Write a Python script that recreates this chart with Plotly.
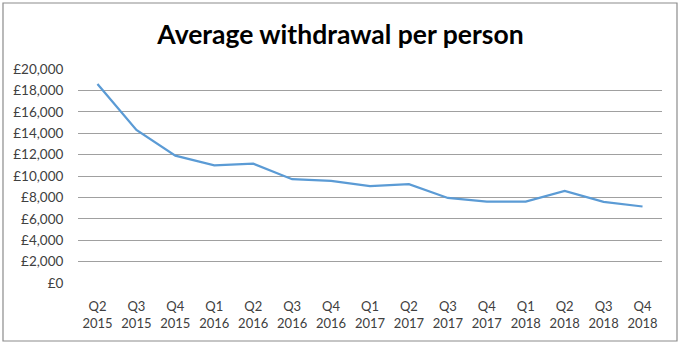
import plotly.graph_objects as go

quarters = ["Q2", "Q3", "Q4", "Q1", "Q2", "Q3", "Q4", "Q1", "Q2", "Q3", "Q4", "Q1", "Q2", "Q3", "Q4"]
years = ["2015", "2015", "2015", "2016", "2016", "2016", "2016", "2017", "2017", "2017", "2017", "2018", "2018", "2018", "2018"]
values = [18600, 14300, 11900, 11000, 11150, 9700, 9550, 9050, 9230, 7950, 7600, 7600, 8600, 7580, 7150]
y_ticks = list(range(0, 20001, 2000))
y_tick_labels = ["£0" if v == 0 else "£{:,}".format(v) for v in y_ticks]

categories = [f"{q}<br>{y}" for q, y in zip(quarters, years)]
xpos = list(range(len(categories)))

W, H = 681, 345
L, R, T, B = 78, 19, 69, 62
pw, ph = W - L - R, H - T - B

fig = go.Figure()
fig.add_trace(go.Scatter(
    x=xpos, y=values, mode="lines",
    line=dict(color="#5B9BD5", width=2.25),
    hoverinfo="skip", showlegend=False,
))

def px_to_paper_x(px):
    return (px - L) / pw

def px_to_paper_y(py):
    return (H - B - py) / ph

fig.update_layout(
    width=W, height=H,
    margin=dict(l=L, r=R, t=T, b=B),
    paper_bgcolor="white", plot_bgcolor="white",
    font=dict(family="Lato, Open Sans, sans-serif", color="#404040", size=12),
    title=dict(
        text="<b>Average withdrawal per person</b>",
        x=0.5, xanchor="center", xref="container",
        y=1 - 35 / H, yanchor="middle",
        font=dict(family="Lato, Open Sans, sans-serif", size=26.5, color="#000000"),
    ),
    xaxis=dict(
        range=[-0.5, len(categories) - 0.5],
        tickmode="array", tickvals=xpos, ticktext=categories,
        showgrid=False, zeroline=False,
        showline=False,
        ticks="outside", ticklen=11, tickcolor="rgba(0,0,0,0)",
        tickfont=dict(size=13, color="#404040"),
        fixedrange=True,
    ),
    yaxis=dict(
        range=[0, 20000],
        tickmode="array", tickvals=y_ticks, ticktext=y_tick_labels,
        showgrid=True, gridcolor="#A0A0A0", gridwidth=1.2,
        zeroline=False, showline=False,
        ticks="outside", ticklen=11, tickcolor="rgba(0,0,0,0)",
        tickfont=dict(size=13.5, color="#404040"),
        fixedrange=True,
    ),
    shapes=[
        dict(type="rect", xref="paper", yref="paper",
             x0=px_to_paper_x(3), x1=px_to_paper_x(677),
             y0=px_to_paper_y(341), y1=px_to_paper_y(3),
             line=dict(color="#8C8C8C", width=1.2), fillcolor="rgba(0,0,0,0)", layer="below"),
    ],
)

fig.write_html("out.html", config={"displayModeBar": False})
